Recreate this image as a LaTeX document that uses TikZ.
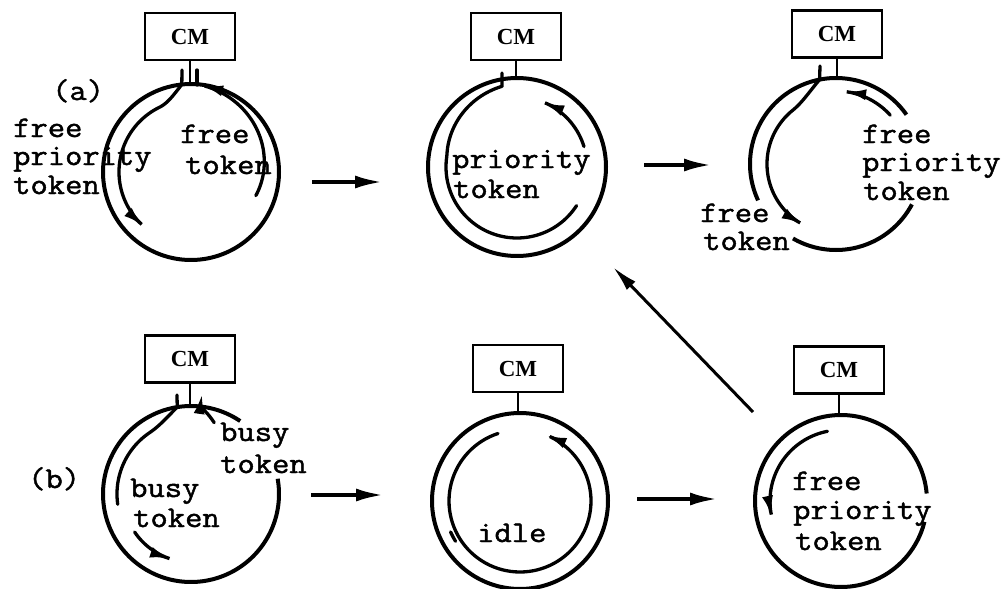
\documentclass[tikz,border=0pt]{standalone}
\usepackage{fontspec}
\newfontfamily\typew{Latin Modern Mono}[FakeBold=1.5, FakeStretch=1.12]
\newfontfamily\cmlabel{Liberation Serif}
\usetikzlibrary{arrows.meta}

% arc of a ring (or a spiralling token path) around centre (#2,#3),
% from angle #4 to angle #5, radius expression #6 in \x
\newcommand\ringarc[6]{%
  \draw[#1] plot[domain=#4:#5, samples=90, smooth]
    ({#2+(#6)*cos(\x)},{#3-(#6)*sin(\x)});}

\tikzset{
  ring/.style={line width=4pt},
  tokenpath/.style={line width=3.3pt, line cap=round},
  tokentip/.style={-{Latex[length=20pt,width=11pt]}},
  stem/.style={line width=2.4pt},
  hub/.style={circle, minimum size=#1, inner sep=0pt, outer sep=0pt},
  cmbox/.style={draw, line width=2.6pt, minimum width=90pt, minimum height=47pt,
    inner sep=0pt, font=\cmlabel\bfseries\fontsize{23}{23}\selectfont},
  lbl/.style={anchor=base west, inner sep=0pt,
    font=\typew\fontsize{30}{30}\selectfont},
  flow/.style={line width=4pt, -{Latex[length=28pt,width=13pt]}},
  jump/.style={line width=3pt, -{Latex[length=26pt,width=12pt]}}
}

\begin{document}
\begin{tikzpicture}[x=1pt, y=-1pt]
\useasboundingbox (0,0) rectangle (1007,589);

% ---------- (a), first state ----------
\node[hub=176pt] (ra1) at (191,172) {};
\node[cmbox] (cma1) at (190,36.5) {CM};
\draw[stem] (cma1.south) -- (cma1.south |- ra1.north);
\ringarc{ring}{191}{172}{0}{360}{88}
\draw[tokenpath, tokentip] (182,70) -- plot[domain=96:228, samples=90, smooth]
  ({191+(72+16*pow(max(0,1-(\x-96)/20),2))*cos(\x)},
   {172-(72+16*pow(max(0,1-(\x-96)/20),2))*sin(\x)});
\draw[tokenpath] (197,70) -- (197,85);
\ringarc{tokenpath,tokentip}{191}{172}{-20}{82}{69+19*(\x+20)/106}
\node[lbl] (a) at (52,100) {(a)};
\node[lbl] (fpt1) at (13,137) {free};
\node[lbl] (fpt2) at (13,165) {priority};
\node[lbl] (fpt3) at (13,194) {token};
\node[lbl] (ft1) at (180,143) {free};
\node[lbl] (ft2) at (185,174) {token};

% ---------- (a), second state ----------
\node[hub=178pt] (ra2) at (517,167) {};
\node[cmbox] (cma2) at (516,36.5) {CM};
\draw[stem] (cma2.south) -- (cma2.south |- ra2.north);
\ringarc{ring}{517}{167}{0}{360}{89}
\draw[tokenpath] (502,73) -- (502,86) -- plot[domain=101:327, samples=100, smooth]
  ({517+(71+11*max(0,1-(\x-101)/70))*cos(\x)},
   {167-(71+11*max(0,1-(\x-101)/70))*sin(\x)});
\ringarc{tokenpath,tokentip}{517}{167}{17}{67}{70}
\node[lbl] (pt1) at (452,168) {priority};
\node[lbl] (pt2) at (453,198) {token};

% ---------- (a), third state ----------
\node[hub=172pt] (ra3) at (836,164) {};
\node[cmbox] (cma3) at (837,34) {CM};
\draw[stem] (cma3.south) -- (cma3.south |- ra3.north);
\ringarc{ring}{836}{164}{35}{205}{86}
\ringarc{ring}{836}{164}{240}{332}{86}
\draw[tokenpath, tokentip] (820,66) -- plot[domain=101:240, samples=90, smooth]
  ({836+(69+17*pow(max(0,1-(\x-101)/28),2))*cos(\x)},
   {164-(69+17*pow(max(0,1-(\x-101)/28),2))*sin(\x)});
\ringarc{tokenpath,tokentip}{836}{164}{42}{82}{73}
\node[lbl] (fp1) at (862,143) {free};
\node[lbl] (fp2) at (862,171) {priority};
\node[lbl] (fp3) at (863,200) {token};
\node[lbl] (fr1) at (700,222) {free};
\node[lbl] (fr2) at (703,250) {token};

% ---------- (b), first state ----------
\node[hub=176pt] (rb1) at (191,494) {};
\node[cmbox] (cmb1) at (190,359) {CM};
\draw[stem] (cmb1.south) -- (cmb1.south |- rb1.north);
\ringarc{ring}{191}{494}{56}{370}{88}
\draw[tokenpath] (177,395) -- plot[domain=99:188, samples=90, smooth]
  ({191+(74+14*pow(max(0,1-(\x-99)/25),2))*cos(\x)},
   {494-(74+14*pow(max(0,1-(\x-99)/25),2))*sin(\x)});
\draw[tokenpath, tokentip] plot[domain=72:84, samples=30, smooth]
  ({191+(75+13*(\x-72)/12)*cos(\x)},{494-(75+13*(\x-72)/12)*sin(\x)})
  -- (202,394);
\ringarc{tokenpath,tokentip}{191}{494}{214}{252}{68}
\node[lbl] (b) at (28,488) {(b)};
\node[lbl] (bt1) at (220,441) {busy};
\node[lbl] (bt2) at (220,473) {token};
\node[lbl] (bi1) at (130,497) {busy};
\node[lbl] (bi2) at (133,527) {token};

% ---------- (b), second state ----------
\node[hub=176pt] (rb2) at (520,501) {};
\node[cmbox] (cmb2) at (518,368.5) {CM};
\draw[stem] (cmb2.south) -- (cmb2.south |- rb2.north);
\ringarc{ring}{520}{501}{0}{360}{88}
\ringarc{tokenpath,tokentip}{520}{501}{108}{428}{71}
\ringarc{tokenpath}{520}{501}{204}{212}{76}
\node[lbl] (idle) at (477,542) {idle};

% ---------- (b), third state ----------
\node[hub=172pt] (rb3) at (841,501) {};
\node[cmbox] (cmb3) at (839,370) {CM};
\draw[stem] (cmb3.south) -- (cmb3.south |- rb3.north);
\ringarc{ring}{841}{501}{5}{346}{86}
\ringarc{tokenpath,tokentip}{841}{501}{101}{192}{71}
\node[lbl] (fq1) at (792,490) {free};
\node[lbl] (fq2) at (793,519) {priority};
\node[lbl] (fq3) at (795,550) {token};

% ---------- transitions ----------
\coordinate (s1) at (312,182);  \coordinate (e1) at (383,182);
\coordinate (s2) at (644,165);  \coordinate (e2) at (712,165);
\coordinate (s3) at (311,495);  \coordinate (e3) at (384,495);
\coordinate (s4) at (637,499);  \coordinate (e4) at (718,499);
\coordinate (s5) at (753,412);  \coordinate (e5) at (613,267);
\draw[flow] (s1) -- (e1);
\draw[flow] (s2) -- (e2);
\draw[flow] (s3) -- (e3);
\draw[flow] (s4) -- (e4);
\draw[jump] (s5) -- (e5);
\end{tikzpicture}
\end{document}
